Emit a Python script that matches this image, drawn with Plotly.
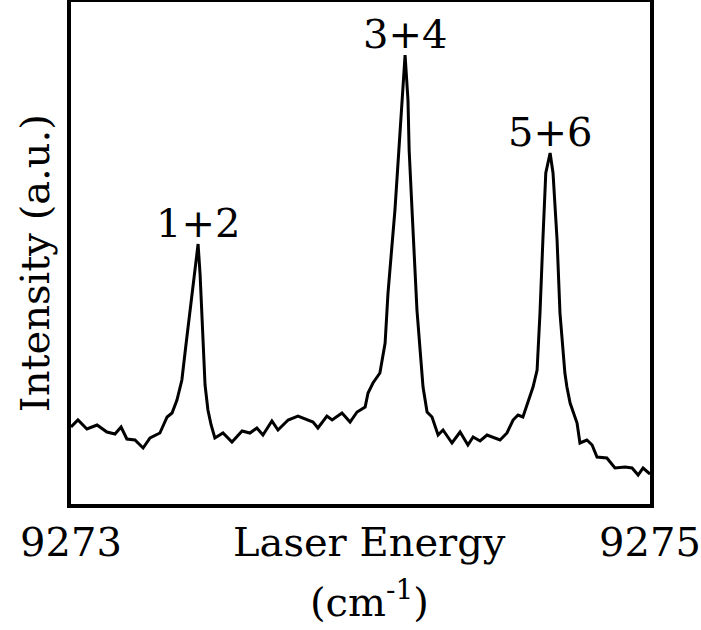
import plotly.graph_objects as go

# Laser excitation spectrum (energy in cm^-1, intensity in arbitrary units)
energy = [
    9273.000, 9273.024, 9273.055, 9273.090, 9273.124, 9273.152, 9273.173, 9273.193,
    9273.221, 9273.249, 9273.273, 9273.307, 9273.332, 9273.349, 9273.366, 9273.383,
    9273.397, 9273.411, 9273.425, 9273.439, 9273.446, 9273.452, 9273.459, 9273.463,
    9273.473, 9273.484, 9273.497, 9273.525, 9273.556, 9273.591, 9273.618, 9273.642,
    9273.663, 9273.694, 9273.715, 9273.750, 9273.784, 9273.836, 9273.853, 9273.884,
    9273.902, 9273.936, 9273.964, 9273.988, 9274.016, 9274.026, 9274.043, 9274.067,
    9274.085, 9274.095, 9274.119, 9274.136, 9274.154, 9274.164, 9274.168, 9274.178,
    9274.195, 9274.216, 9274.230, 9274.247, 9274.268, 9274.285, 9274.316, 9274.344,
    9274.371, 9274.389, 9274.413, 9274.437, 9274.458, 9274.482, 9274.506, 9274.527,
    9274.544, 9274.561, 9274.575, 9274.596, 9274.610, 9274.620, 9274.630, 9274.640,
    9274.655, 9274.665, 9274.679, 9274.689, 9274.706, 9274.713, 9274.724, 9274.748,
    9274.758, 9274.782, 9274.800, 9274.817, 9274.851, 9274.879, 9274.914, 9274.938,
    9274.959, 9274.976, 9275.000,
]
intensity = [
    0.77, 0.84, 0.75, 0.79, 0.72, 0.70, 0.77, 0.65,
    0.64, 0.56, 0.66, 0.71, 0.87, 0.91, 1.04, 1.24,
    1.59, 1.94, 2.29, 2.60, 2.29, 1.84, 1.44, 1.19,
    0.94, 0.79, 0.66, 0.71, 0.62, 0.73, 0.71, 0.76,
    0.69, 0.83, 0.74, 0.84, 0.88, 0.82, 0.76, 0.88,
    0.84, 0.91, 0.82, 0.92, 0.97, 1.11, 1.21, 1.31,
    1.61, 2.11, 2.94, 3.74, 4.49, 4.04, 3.54, 2.94,
    1.94, 1.17, 0.92, 0.87, 0.69, 0.74, 0.61, 0.72,
    0.59, 0.67, 0.63, 0.69, 0.67, 0.64, 0.71, 0.84,
    0.89, 0.87, 0.99, 1.17, 1.34, 1.91, 2.64, 3.31,
    3.51, 3.31, 2.64, 1.91, 1.31, 1.17, 1.01, 0.81,
    0.61, 0.64, 0.59, 0.47, 0.46, 0.36, 0.37, 0.36,
    0.29, 0.36, 0.30,
]

peak_labels = ["1+2", "3+4", "5+6"]
peak_energy = [9273.439, 9274.154, 9274.655]
peak_intensity = [2.60, 4.49, 3.51]

tick_values = [9273, 9275]
tick_text = ["9273", "9275"]

FONT = "DejaVu Serif"
SIZE = 40

fig = go.Figure()
fig.add_trace(go.Scatter(
    x=energy, y=intensity, mode="lines",
    line=dict(color="black", width=3),
    hoverinfo="skip", showlegend=False,
))

# peak assignments sit just above each maximum
for lab, px, py in zip(peak_labels, peak_energy, peak_intensity):
    fig.add_annotation(
        x=px, y=py, text=lab, showarrow=False,
        xanchor="center", yanchor="bottom", yshift=-4,
        font=dict(family=FONT, size=SIZE, color="black"),
    )

# axis titles placed as free text so the x title shares the tick-label row
fig.add_annotation(
    xref="paper", yref="paper", x=0.516, y=-0.075,
    text="Laser Energy", showarrow=False,
    xanchor="center", yanchor="middle",
    font=dict(family=FONT, size=SIZE, color="black"),
)
fig.add_annotation(
    xref="paper", yref="paper", x=0.516, y=-0.19,
    text="(cm<sup>-1</sup>)", showarrow=False,
    xanchor="center", yanchor="middle",
    font=dict(family=FONT, size=SIZE, color="black"),
)
fig.add_annotation(
    xref="paper", yref="paper", x=-0.062, y=0.48,
    text="Intensity (a.u.)", showarrow=False, textangle=-90,
    xanchor="center", yanchor="middle",
    font=dict(family=FONT, size=SIZE, color="black"),
)

fig.update_layout(
    width=701, height=630,
    margin=dict(l=71, r=51, t=2, b=126),
    paper_bgcolor="white", plot_bgcolor="white",
    font=dict(family=FONT, color="black", size=SIZE),
    xaxis=dict(
        range=[9273, 9275], tickvals=tick_values, ticktext=tick_text,
        showgrid=False, zeroline=False, ticks="", automargin=False,
        showline=True, mirror=True, linecolor="black", linewidth=4,
        tickfont=dict(family=FONT, size=SIZE),
    ),
    yaxis=dict(
        range=[0, 5.02], showticklabels=False, automargin=False,
        showgrid=False, zeroline=False, ticks="",
        showline=True, mirror=True, linecolor="black", linewidth=4,
    ),
)

fig.write_html("out.html")
